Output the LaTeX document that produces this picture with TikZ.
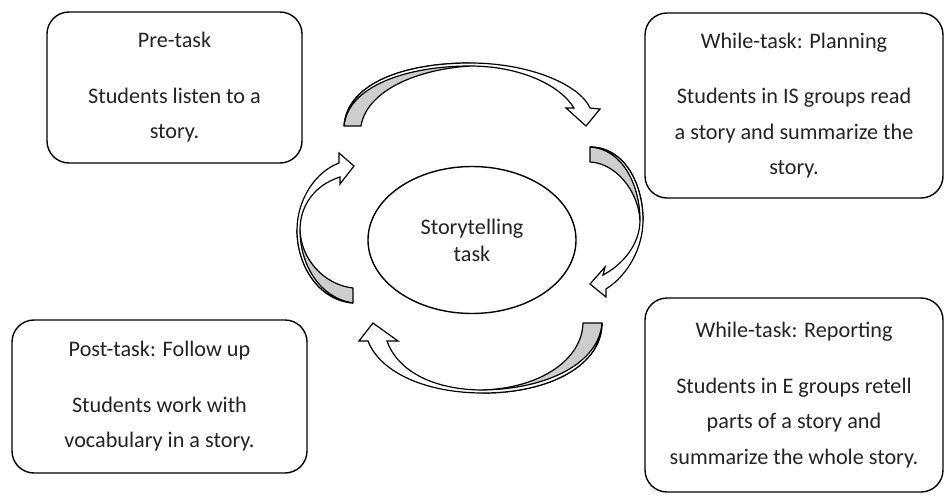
\documentclass[tikz,border=0pt]{standalone}
\usepackage{fontspec}
\setmainfont{Carlito}
\usetikzlibrary{shapes.geometric}
\definecolor{bandgray}{RGB}{205,205,205}
\definecolor{txt}{RGB}{35,35,35}
\newcommand\boxfont{\fontsize{22.2}{35.5}\selectfont}
\newcommand\ellfont{\fontsize{22.2}{27}\selectfont}
\tikzset{
  box/.style={draw, line width=1.4pt, rounded corners=22pt, align=center,
    font=\boxfont, text=txt, inner sep=0pt},
  hub/.style={draw, ellipse, line width=1.4pt, align=center, font=\ellfont,
    text=txt, inner sep=0pt},
  grayband/.style={draw, line width=1.2pt, fill=bandgray, line join=round},
  whiteband/.style={draw, line width=1.2pt, fill=white, line join=miter},
}
\begin{document}
\begin{tikzpicture}[x=1pt,y=-1pt]
\useasboundingbox (0,0) rectangle (945,495);
\fill[white] (0,0) rectangle (945,495);

% boxes
\node[box, minimum width=255pt, minimum height=151pt] (pre) at (174.5,87.5)
  {Pre-task\\[20pt]Students listen to a\\story.};
\node[box, minimum width=298pt, minimum height=185pt] (plan) at (794,105.5)
  {While-task: Planning\\[20pt]Students in IS groups read\\a story and summarize the\\story.};
\node[box, minimum width=295pt, minimum height=153pt] (post) at (159.5,396.5)
  {Post-task: Follow up\\[20pt]Students work with\\vocabulary in a story.};
\node[box, minimum width=298pt, minimum height=194pt] (rep) at (794,395)
  {While-task: Reporting\\[20pt]Students in E groups retell\\parts of a story and\\summarize the whole story.};
\node[hub, minimum width=208pt, minimum height=147pt] (hubnode) at (472,240)
  {Storytelling\\task};

% top curved arrow
\path[grayband] (344,126) .. controls (347,83) and (405,63) .. (470,63)
  -- (470,66) .. controls (410,70) and (366,94) .. (361,126) -- cycle;
\path[whiteband] (344,126) .. controls (347,83) and (405,63) .. (470,63)
  .. controls (530,63) and (580,85) .. (590,108)
  -- (600,109) -- (586,126) -- (566,108) -- (574,108)
  .. controls (560,85) and (520,66) .. (470,66)
  .. controls (407,66) and (348,86) .. (344,126) -- cycle;

% right curved arrow
\path[grayband] (590,147) .. controls (625,147) and (643,185) .. (643,220)
  -- (640,220) .. controls (638,190) and (615,163) .. (590,162) -- cycle;
\path[whiteband] (590,147) .. controls (625,147) and (643,185) .. (643,220)
  .. controls (643,248) and (628,275) .. (606,289)
  -- (606,297) -- (590,284) -- (605,267) -- (603,275)
  .. controls (622,265) and (640,245) .. (640,220)
  .. controls (640,186) and (623,149) .. (590,147) -- cycle;

% bottom curved arrow
\path[grayband] (602,323) .. controls (602,365) and (550,393) .. (483,393)
  -- (483,390) .. controls (540,388) and (582,360) .. (583,323) -- cycle;
\path[whiteband] (602,323) .. controls (602,365) and (550,393) .. (483,393)
  .. controls (425,393) and (380,372) .. (368,341)
  -- (359,341) -- (373,323) -- (398,341) -- (387,341)
  .. controls (398,372) and (435,390) .. (483,390)
  .. controls (548,389) and (599,363) .. (602,323) -- cycle;

% left curved arrow
\path[grayband] (353,303) .. controls (318,300) and (297,265) .. (297,230)
  -- (300,230) .. controls (301,260) and (325,285) .. (353,288) -- cycle;
\path[whiteband] (353,303) .. controls (318,300) and (297,265) .. (297,230)
  .. controls (297,200) and (315,172) .. (339,163)
  -- (339,153) -- (354,166) -- (340,184) -- (340,177)
  .. controls (315,185) and (300,205) .. (300,230)
  .. controls (300,265) and (320,298) .. (353,303) -- cycle;
\end{tikzpicture}
\end{document}
